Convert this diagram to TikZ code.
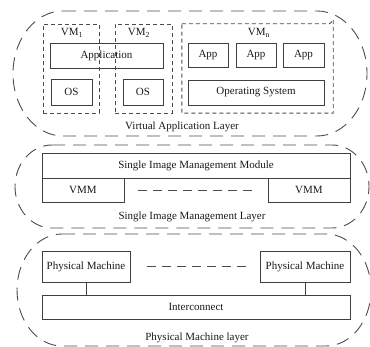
\documentclass[tikz,border=0pt]{standalone}
\usepackage{fontspec}
\setmainfont{Liberation Serif}
\begin{document}
\begin{tikzpicture}[x=1pt,y=-1pt,
  every node/.style={font=\fontsize{11}{13}\selectfont, text=black!90, inner sep=0pt},
  box/.style={draw=black!75, line width=0.9pt},
  vmbox/.style={draw=black!70, line width=0.9pt, dash pattern=on 4pt off 3pt},
  gapline/.style={draw=black!70, line width=0.9pt, dash pattern=on 9pt off 6pt},
  link/.style={draw=black!75, line width=0.9pt},
  layer/.style={draw=black!70, line width=0.9pt, dash pattern=on 13pt off 8pt}]
\useasboundingbox (0,0) rectangle (370,347);

% layer outline with elliptical ends: style, x0, x1, top, bottom, end radius
\newcommand\layeroutline[6]{%
  \pgfmathsetmacro\lcy{(#4+#5)/2}%
  \pgfmathsetmacro\lry{(#5-#4)/2}%
  \pgfmathsetmacro\lkx{0.5523*#6}%
  \pgfmathsetmacro\lky{0.5523*\lry}%
  \draw[#1] (#2+#6,#4) -- (#3-#6,#4)
    .. controls (#3-#6+\lkx,#4) and (#3,\lcy-\lky) .. (#3,\lcy)
    .. controls (#3,\lcy+\lky) and (#3-#6+\lkx,#5) .. (#3-#6,#5)
    -- (#2+#6,#5)
    .. controls (#2+#6-\lkx,#5) and (#2,\lcy+\lky) .. (#2,\lcy)
    .. controls (#2,\lcy-\lky) and (#2+#6-\lkx,#4) .. cycle;}

% ---------- Virtual Application Layer ----------
\layeroutline{layer}{13}{367}{11}{136}{50}
\node[box, minimum width=113, minimum height=25] (app) at (106.5,55.5) {Application};
\node[vmbox, minimum width=56, minimum height=89] (vm1) at (71,68.5) {};
\node[vmbox, minimum width=57, minimum height=89] (vm2) at (143.5,68.5) {};
\node[minimum width=151, minimum height=89] (vmn) at (257.5,68.5) {};
\draw[vmbox] (vmn.north west) -- ([xshift=-4]vmn.north east)
  to[out=0,in=90] ([yshift=4]vmn.north east) -- (vmn.south east) -- (vmn.south west) -- cycle;
\node (vm1l) at (72,33) {VM\textsubscript{1}};
\node (vm2l) at (139,33) {VM\textsubscript{2}};
\node (vmnl) at (259,33) {VM\textsubscript{n}};
\node[box, minimum width=41, minimum height=26] (os1) at (71.5,92) {OS};
\node[box, minimum width=40, minimum height=26] (os2) at (143,92) {OS};
\node[box, minimum width=40, minimum height=24] (appa) at (208,55) {App};
\node[box, minimum width=40, minimum height=24] (appb) at (256,55) {App};
\node[box, minimum width=41, minimum height=24] (appc) at (303.5,55) {App};
\node[box, minimum width=136, minimum height=25] (osn) at (256,92.5) {Operating System};
\node (val) at (182,127) {Virtual Application Layer};

% ---------- Single Image Management Layer ----------
\layeroutline{layer}{15}{369}{145}{228}{37}
\node[box, minimum width=308, minimum height=25] (simm) at (196,165.5) {Single Image Management Module};
\node[box, minimum width=82, minimum height=24] (vmml) at (83,190) {VMM};
\node[box, minimum width=82, minimum height=24] (vmmr) at (309,190) {VMM};
\draw[gapline] ([xshift=14]vmml.east) -- ([xshift=-15]vmmr.west);
\node (siml) at (192,217) {Single Image Management Layer};

% ---------- Physical Machine layer ----------
\layeroutline{layer}{17}{371}{234}{346}{45}
\node[box, minimum width=88, minimum height=31] (pml) at (86,266.5) {Physical Machine};
\node[box, minimum width=90, minimum height=31] (pmr) at (305,266.5) {Physical Machine};
\node[box, minimum width=308, minimum height=24] (ic) at (196,307) {Interconnect};
\draw[gapline] ([xshift=17]pml.east) -- ([xshift=-10]pmr.west);
\draw[link] (pml.south) -- (pml.south |- ic.north);
\draw[link] (pmr.south) -- (pmr.south |- ic.north);
\node (pmll) at (197,338) {Physical Machine layer};
\end{tikzpicture}
\end{document}
